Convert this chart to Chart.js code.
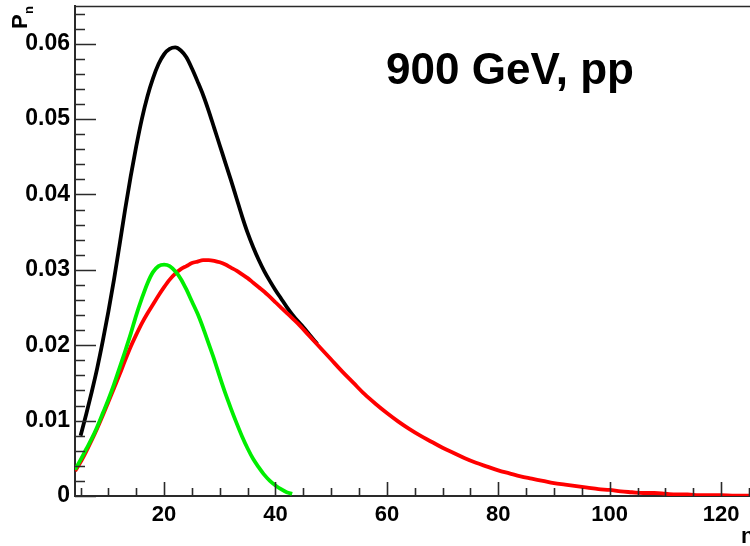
<!DOCTYPE html>
<html>
<head>
<meta charset="utf-8">
<style>
html,body{margin:0;padding:0;background:#fff;}
#wrap{width:750px;height:546px;position:relative;}
</style>
<script src="https://cdn.jsdelivr.net/npm/chart.js@4.4.1/dist/chart.umd.min.js"></script>
</head>
<body>
<div id="wrap"><canvas id="c" width="750" height="546"></canvas></div>
<script>
// ---- data ----
const titleText = "900 GeV, pp";
const xTitle = "n";
const yTitleMain = "P";
const yTitleSub = "n";

const blackN = [5,6,7,8,9,10,11,12,13,14,15,16,17,18,19,20,21,22,23,24,25,26,27,28,29,30,31,32,33,34,35,36,37,38,39,40,41,42,43,44,45,46,47,47.5];
const blackP = [0.0080,0.0108,0.0138,0.0170,0.0206,0.0245,0.0287,0.0333,0.0380,0.0424,0.0464,0.0500,0.0530,0.0554,0.0573,0.0586,0.0593,0.0595,0.0591,0.0582,0.0567,0.0550,0.0532,0.0511,0.0488,0.0465,0.0442,0.0419,0.0395,0.0371,0.0349,0.0330,0.0313,0.0298,0.0285,0.0273,0.0262,0.0251,0.0241,0.0232,0.0224,0.0215,0.0206,0.0202];

const greenN = [4,5,6,7,8,9,10,11,12,13,14,15,16,17,18,19,20,21,22,23,24,25,26,27,28,29,30,31,32,33,34,35,36,37,38,39,40,41,42,43];
const greenP = [0.0035,0.0048,0.0062,0.0076,0.0092,0.0110,0.0128,0.0148,0.0170,0.0192,0.0215,0.0240,0.0262,0.0282,0.0297,0.0305,0.0307,0.0305,0.0298,0.0288,0.0274,0.0258,0.0242,0.0223,0.0202,0.0181,0.0158,0.0136,0.0116,0.0097,0.0079,0.0063,0.0049,0.0038,0.0028,0.0020,0.0014,0.0009,0.0005,0.0003];

const redN = [4,5,6,7,8,9,10,11,12,13,14,15,16,17,18,19,20,21,22,23,24,25,26,27,28,29,30,31,32,33,34,35,36,37,38,39,40,41,42,43,44,46,48,50,52,54,56,58,60,62,64,66,68,70,72,74,76,78,80,82,84,86,88,90,92,94,96,98,100,102,104,106,108,110,112,114,116,118,120,122,124,126];
const redP = [0.0033,0.0045,0.0059,0.0074,0.0090,0.0107,0.0125,0.0143,0.0161,0.0180,0.0198,0.0214,0.0229,0.0242,0.0254,0.0266,0.0277,0.0287,0.0295,0.0301,0.0305,0.0309,0.0311,0.0313,0.0313,0.0312,0.0310,0.0307,0.0303,0.0299,0.0294,0.0289,0.0283,0.0277,0.0271,0.0264,0.0257,0.0250,0.0243,0.0236,0.0229,0.0213,0.0197,0.0181,0.0165,0.0150,0.0135,0.0122,0.0110,0.0099,0.0089,0.0080,0.0072,0.0064,0.0057,0.0050,0.0044,0.0039,0.0034,0.0030,0.0026,0.0023,0.0020,0.0017,0.0015,0.0013,0.0011,0.0009,0.0008,0.0006,0.0005,0.0004,0.0004,0.0003,0.0002,0.0002,0.0001,0.0001,0.0001,0.00005,0.00004,0.00003];

const xMin = 4, xMax = 125.2, yMin = 0, yMax = 0.065;
const xMajorStep = 20, xMinorStep = 5;
const yMajorStep = 0.01, yMinorStep = 0.002;

function pts(nArr, pArr){ return nArr.map((n,i)=>({x:n, y:pArr[i]})); }

const FONT = "'Liberation Sans', Arial, Helvetica, sans-serif";
const AXIS_COLOR = '#2a2a2a';

const rootFrame = {
  id: 'rootFrame',
  afterDatasetsDraw(chart){
    const ctx = chart.ctx, xs = chart.scales.x, ys = chart.scales.y, a = chart.chartArea;
    ctx.save();
    ctx.strokeStyle = AXIS_COLOR;
    ctx.lineWidth = 1.6;
    ctx.beginPath();
    ctx.moveTo(a.left, a.top + 0.5); ctx.lineTo(a.right, a.top + 0.5);
    ctx.stroke();
    ctx.beginPath();
    const nY = Math.round((yMax - yMin)/yMinorStep);
    const per = Math.round(yMajorStep/yMinorStep);
    for(let i=0;i<=nY;i++){
      const v = yMin + i*yMinorStep;
      if (v > yMax + 1e-9) break;
      const py = Math.round(ys.getPixelForValue(v)) + 0.5;
      const len = (i % per === 0) ? 21 : 10;
      ctx.moveTo(a.left, py); ctx.lineTo(a.left + len, py);
    }
    for(let v = Math.ceil(xMin/xMinorStep)*xMinorStep; v <= xMax + 1e-9; v += xMinorStep){
      const px = Math.round(xs.getPixelForValue(v)) + 0.5;
      const major = Math.abs(v % xMajorStep) < 1e-9;
      const len = major ? 14 : 8;
      ctx.moveTo(px, a.bottom); ctx.lineTo(px, a.bottom - len);
    }
    ctx.stroke();
    ctx.restore();
  },
  afterDraw(chart){
    const ctx = chart.ctx;
    ctx.save();
    ctx.fillStyle = '#000';
    ctx.font = "bold 44px " + FONT;
    ctx.textAlign = 'center';
    ctx.textBaseline = 'alphabetic';
    ctx.fillText(titleText, 510, 84);
    ctx.font = "bold 22px " + FONT;
    ctx.textAlign = 'left';
    ctx.fillText(xTitle, 741, 543);
    ctx.translate(27, 29);
    ctx.rotate(-Math.PI/2);
    ctx.font = "bold 22px " + FONT;
    ctx.fillText(yTitleMain, 0, 0);
    ctx.font = "bold 13px " + FONT;
    ctx.fillText(yTitleSub, 15, 6);
    ctx.restore();
  }
};

new Chart(document.getElementById('c'), {
  type: 'line',
  data: {
    datasets: [
      { label: 'green', data: pts(greenN, greenP), borderColor: '#00ee00', order: 0 },
      { label: 'red', data: pts(redN, redP), borderColor: '#ff0000', order: 1 },
      { label: 'black', data: pts(blackN, blackP), borderColor: '#000000', order: 2 }
    ]
  },
  options: {
    responsive: false,
    devicePixelRatio: 1,
    animation: false,
    layout: { padding: { top: 6, left: 0, right: 0, bottom: 0 } },
    elements: {
      point: { radius: 0, hoverRadius: 0 },
      line: { borderWidth: 3.8, tension: 0, cubicInterpolationMode: 'monotone', fill: false }
    },
    plugins: { legend: { display: false }, tooltip: { enabled: false } },
    scales: {
      x: {
        type: 'linear', min: xMin, max: xMax,
        grid: { display: false, drawTicks: false },
        border: { display: true, color: AXIS_COLOR, width: 2 },
        ticks: {
          stepSize: xMajorStep, includeBounds: false, autoSkip: false, maxRotation: 0,
          padding: 6, color: '#000',
          font: { family: FONT, size: 22, weight: 'bold' },
          callback: v => (Math.abs(v % xMajorStep) < 1e-9 ? String(v) : '')
        },
        afterFit: s => { s.height = 50; s.paddingLeft = 0; s.paddingRight = 0; }
      },
      y: {
        type: 'linear', min: yMin, max: yMax,
        grid: { display: false, drawTicks: false },
        border: { display: true, color: AXIS_COLOR, width: 2 },
        ticks: {
          stepSize: yMajorStep, includeBounds: false, autoSkip: false,
          padding: 5, color: '#000',
          font: { family: FONT, size: 23, weight: 'bold' },
          callback: v => (Math.abs(v) < 1e-12 ? '0' : v.toFixed(2))
        },
        afterFit: s => { s.width = 75; s.paddingTop = 0; s.paddingBottom = 0; }
      }
    }
  },
  plugins: [rootFrame]
});
</script>
</body>
</html>
